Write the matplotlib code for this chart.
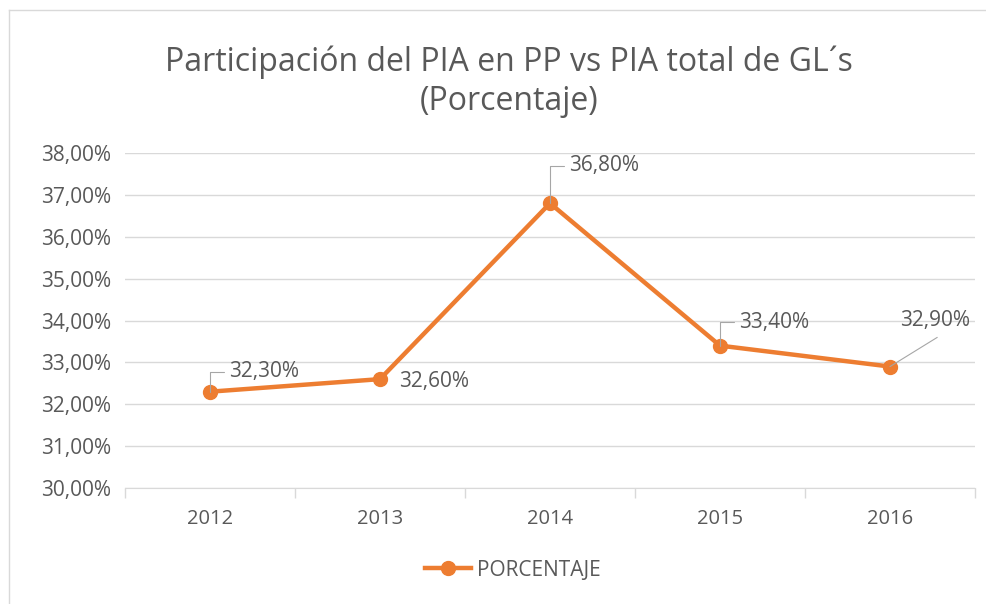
import matplotlib.pyplot as plt
from matplotlib.lines import Line2D

years = ['2012', '2013', '2014', '2015', '2016']
porcentaje = [32.3, 32.6, 36.8, 33.4, 32.9]
label_text = ['32,30%', '32,60%', '36,80%', '33,40%', '32,90%']
y_ticks = [30, 31, 32, 33, 34, 35, 36, 37, 38]

orange = '#ED7D31'
grey = '#595959'
grid = '#D9D9D9'

plt.rcParams['font.family'] = ['Open Sans', 'DejaVu Sans']

fig = plt.figure(figsize=(9.87, 6.04), dpi=100)
ax = fig.add_axes([125 / 987, 1 - 488 / 604, 850 / 987, 335 / 604])

x = list(range(len(years)))
ax.plot(x, porcentaje, color=orange, lw=3.2, marker='o', ms=10,
        solid_joinstyle='round', zorder=3)

ax.set_xlim(-0.5, len(years) - 0.5)
ax.set_ylim(30, 38)
ax.set_yticks(y_ticks)
ax.set_yticklabels(['%d,00%%' % v for v in y_ticks])
ax.set_xticks(x)
ax.set_xticklabels(years)
ax.set_xticks([i - 0.5 for i in range(len(years) + 1)], minor=True)
ax.tick_params(axis='x', which='major', length=0, pad=15, labelsize=14.5, labelcolor=grey)
ax.tick_params(axis='x', which='minor', length=7, color=grid, width=1)
ax.tick_params(axis='y', length=0, pad=10, labelsize=15, labelcolor=grey)

ax.grid(axis='y', color=grid, lw=1)
ax.set_axisbelow(True)
for s in ['top', 'right', 'left']:
    ax.spines[s].set_visible(False)
ax.spines['bottom'].set_color(grid)

# data labels with leader lines (offsets in points)
offsets = [(14, 14.5), (14, -1.5), (14, 27), (14, 17), (7, 33)]
for i, (v, t) in enumerate(zip(porcentaje, label_text)):
    dx, dy = offsets[i]
    ax.annotate(t, (i, v), xytext=(dx, dy), textcoords='offset points',
                fontsize=15, color=grey, va='center', ha='left')

lc = '#A6A6A6'
for i in [0, 2, 3]:
    dx, dy = offsets[i]
    ax.annotate('', (i, porcentaje[i]), xytext=(dx - 4, dy),
                textcoords='offset points',
                arrowprops=dict(arrowstyle='-', color=lc, lw=0.8,
                                connectionstyle='angle,angleA=0,angleB=90,rad=0',
                                shrinkA=0, shrinkB=0))
ax.annotate('', (4, porcentaje[4]), xytext=(34, 21), textcoords='offset points',
            arrowprops=dict(arrowstyle='-', color=lc, lw=0.8, shrinkA=0, shrinkB=0))

fig.text(509 / 987, 1 - 62 / 604, 'Participación del PIA en PP vs PIA total de GL´s',
         ha='center', va='center', fontsize=23, color=grey)
fig.text(509 / 987, 1 - 101 / 604, '(Porcentaje)', ha='center', va='center',
         fontsize=23, color=grey)

handle = Line2D([], [], color=orange, lw=3.2, marker='o', ms=10)
fig.legend([handle], ['PORCENTAJE'], loc='center', bbox_to_anchor=(0.52, 1 - 570 / 604),
           frameon=False, fontsize=15, labelcolor=grey, handlelength=2.2,
           handletextpad=0.3)

# chart border
fig.add_artist(Line2D([9 / 987, 9 / 987], [0, 1 - 10 / 604], color=grid, lw=1))
fig.add_artist(Line2D([9 / 987, 1], [1 - 10 / 604, 1 - 10 / 604], color=grid, lw=1))

fig.savefig('out.png', dpi=100)
